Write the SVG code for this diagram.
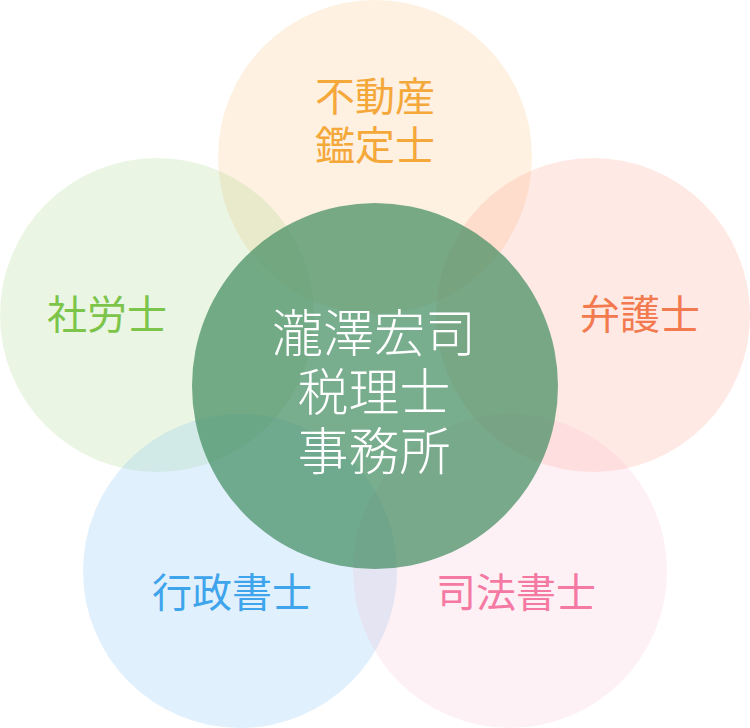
<svg xmlns="http://www.w3.org/2000/svg" width="750" height="728" viewBox="0 0 750 728">
  <style>
    text { font-family: "Noto Sans CJK JP", "Noto Sans CJK SC", sans-serif; font-weight: 400; text-anchor: middle; dominant-baseline: central; }
    .sm { font-size: 40px; }
    .ctr { font-size: 51px; font-weight: 300; fill: #ffffff; }
  </style>
  <rect width="750" height="728" fill="#ffffff"/>
  <g id="node-fudosan">
    <circle cx="375" cy="157" r="157" fill="#f7a94a" fill-opacity="0.16"/>
  </g>
  <g id="node-sharoushi">
    <circle cx="157" cy="315" r="157" fill="#8fcd6a" fill-opacity="0.19"/>
  </g>
  <g id="node-bengoshi">
    <circle cx="593" cy="315" r="157" fill="#ff8a70" fill-opacity="0.19"/>
  </g>
  <g id="node-gyosei">
    <circle cx="240" cy="571" r="157" fill="#7cc0f6" fill-opacity="0.23"/>
  </g>
  <g id="node-shiho">
    <circle cx="510" cy="571" r="157" fill="#f8a6c2" fill-opacity="0.16"/>
  </g>
  <g id="node-center">
    <circle cx="375" cy="386" r="183" fill="#3f8a5e" fill-opacity="0.7"/>
  </g>
  <g id="labels">
    <text class="sm" x="375" y="94" fill="#f5a83a">不動産</text>
    <text class="sm" x="375" y="143" fill="#f5a83a">鑑定士</text>
    <text class="sm" x="107" y="312" fill="#7cc44a">社労士</text>
    <text class="sm" x="640" y="312" fill="#f27a4e">弁護士</text>
    <text class="sm" x="232" y="590" fill="#3ea4ec">行政書士</text>
    <text class="sm" x="516" y="590" fill="#f47aa3">司法書士</text>
    <text class="ctr" x="374" y="330">瀧澤宏司</text>
    <text class="ctr" x="374" y="389">税理士</text>
    <text class="ctr" x="374" y="448">事務所</text>
  </g>
</svg>
